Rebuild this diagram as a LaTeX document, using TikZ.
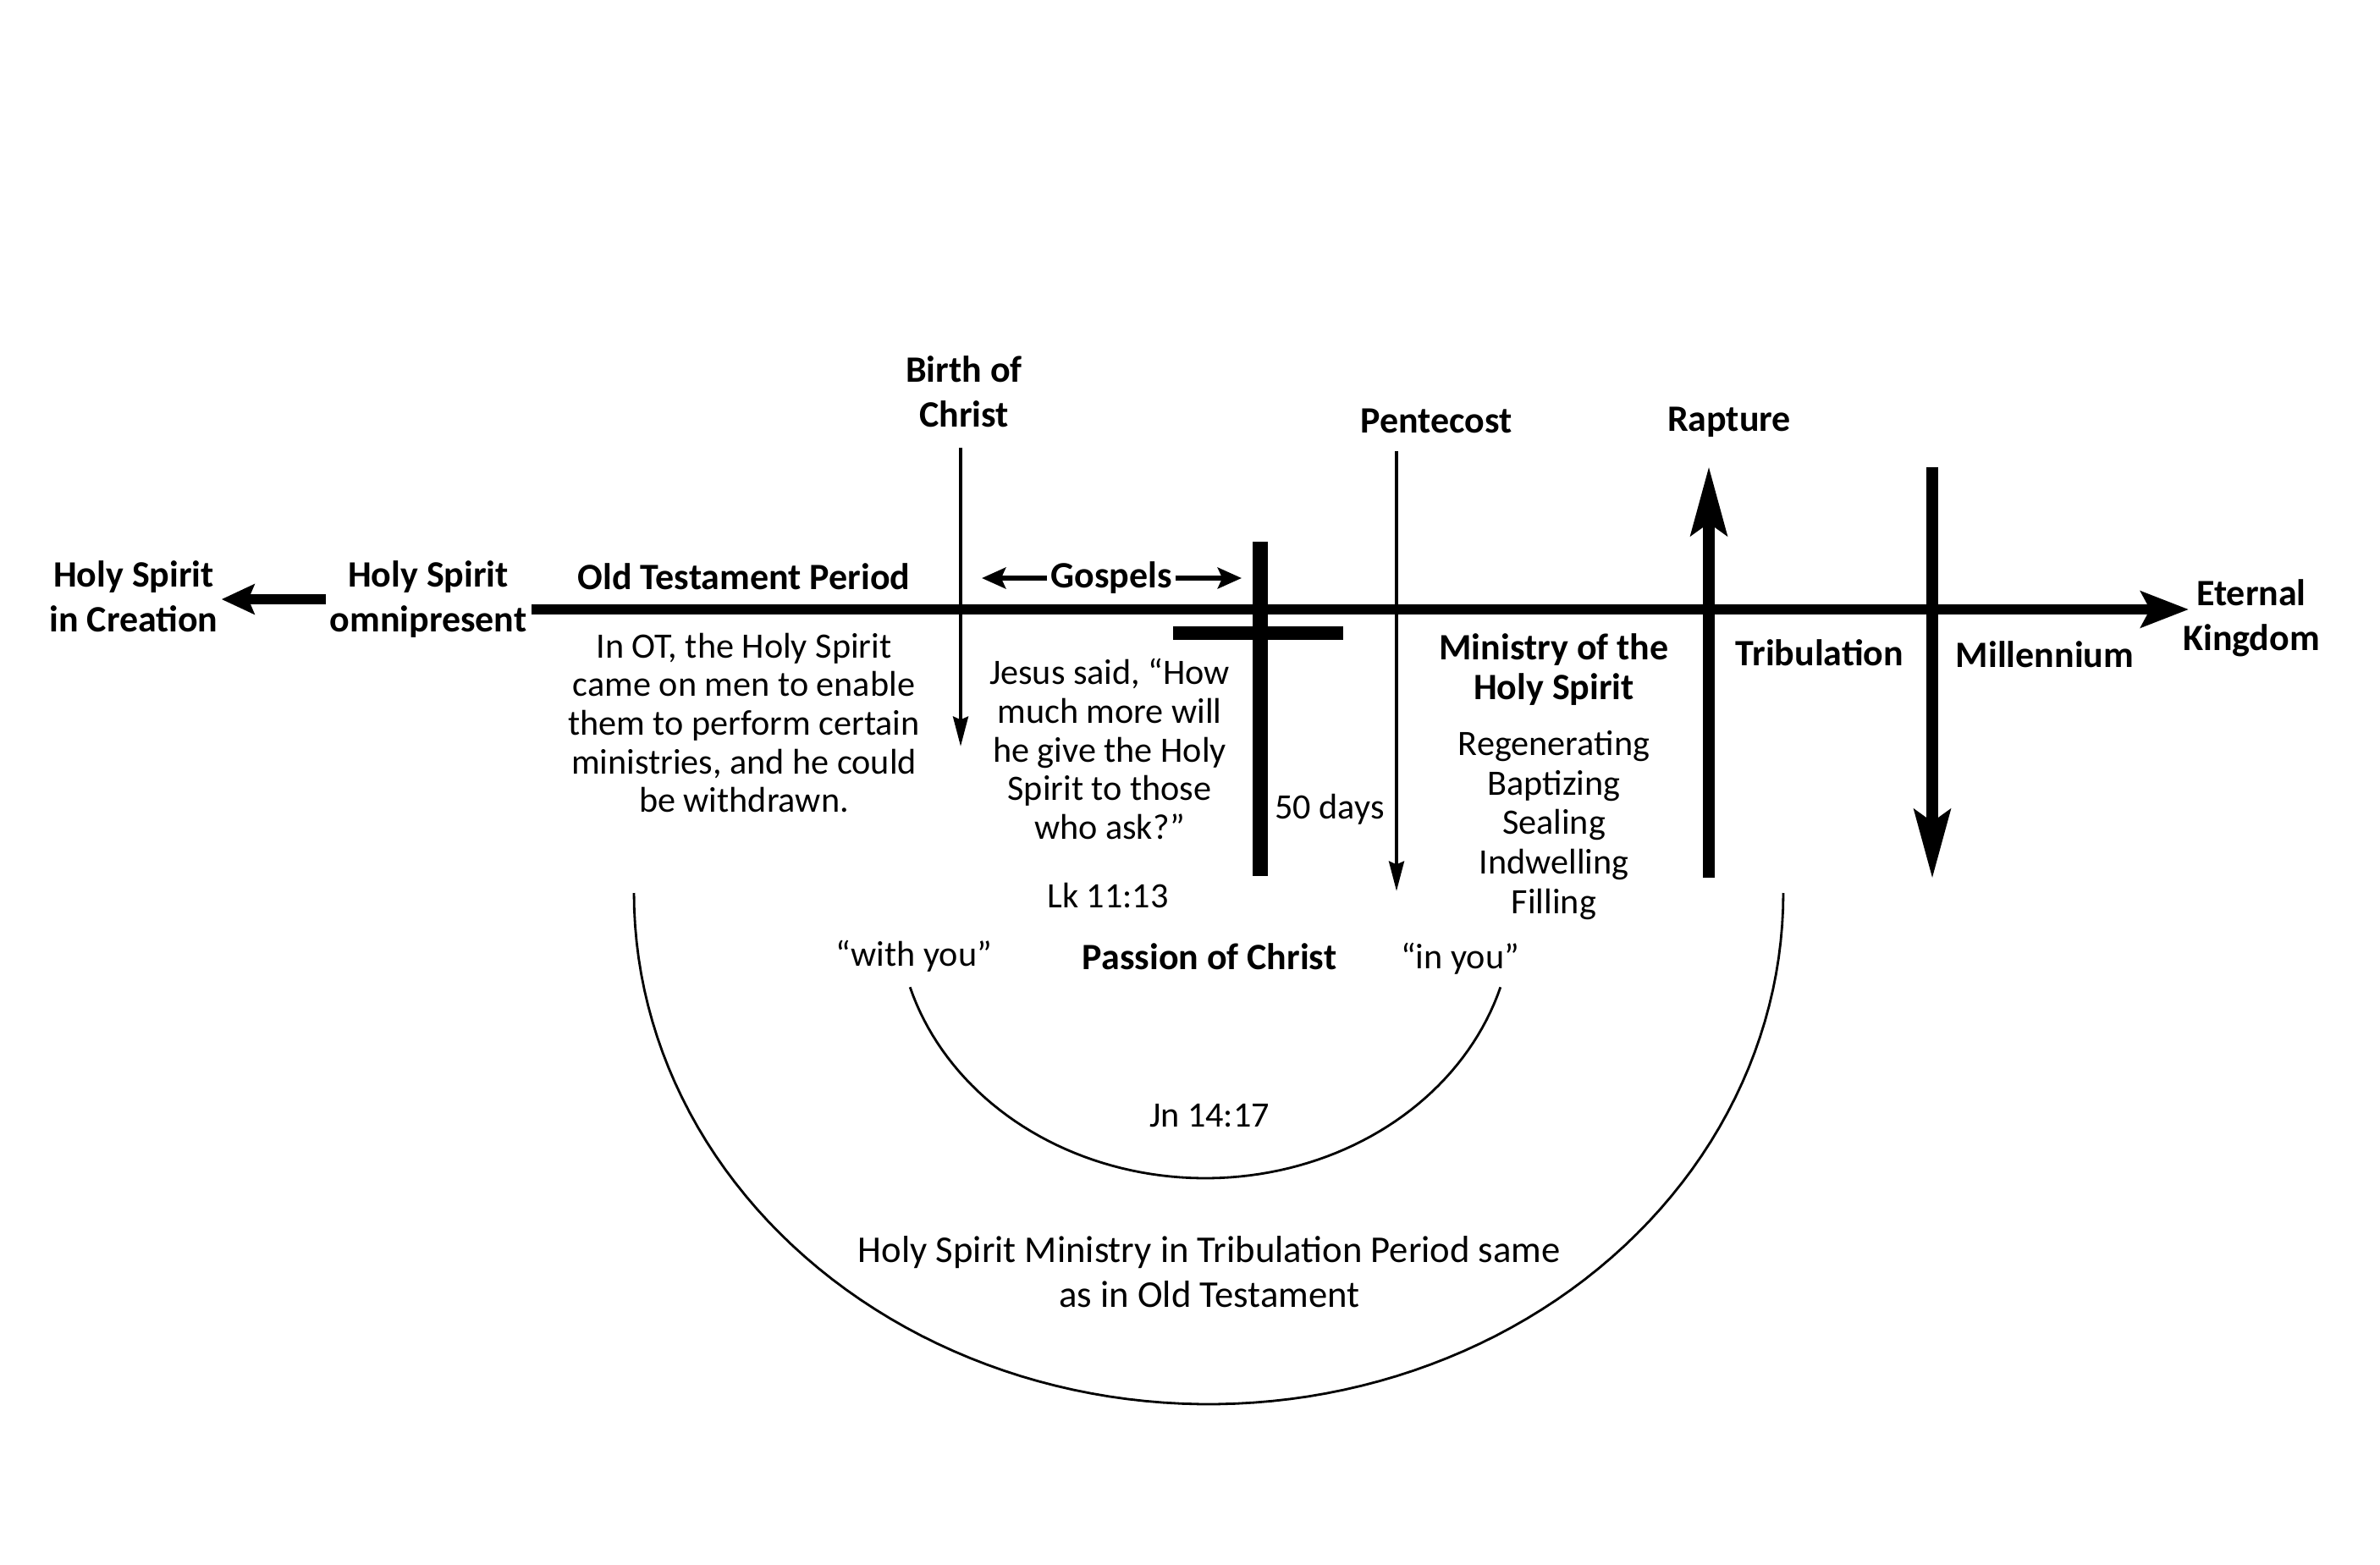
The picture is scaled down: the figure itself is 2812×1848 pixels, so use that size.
\documentclass[tikz,border=0pt]{standalone}
\usepackage{fontspec}
\setmainfont{Carlito}
\usetikzlibrary{arrows.meta}
\tikzset{
  axis/.style={line width=3.6pt, -{Stealth[length=16pt,width=12pt,inset=3pt]}},
  back/.style={line width=3.6pt, -{Stealth[length=11pt,width=10pt,inset=2pt]}},
  event/.style={line width=1.4pt, -{Stealth[length=10pt,width=5pt,inset=1pt]}},
  span/.style={line width=1.8pt, -{Stealth[length=8pt,width=7pt,inset=1.5pt]}},
  heavy/.style={line width=4pt, -{Stealth[length=23pt,width=12pt,inset=4pt]}},
  curve/.style={line width=0.8pt},
  lab/.style={font=\fontsize{12.5}{15}\selectfont\bfseries, align=center, inner sep=1pt},
  txt/.style={font=\fontsize{12}{13}\selectfont, align=center, inner sep=1pt}
}
\begin{document}
\begin{tikzpicture}[x=0.01cm,y=-0.01cm]
  \useasboundingbox (0,0) rectangle (2812,1848);

  % time line
  \coordinate (ts) at (628,720);
  \coordinate (te) at (2586,720);
  \draw[axis] (ts)--(te);

  \node[lab] (crea) at (158,705) {Holy Spirit\\in Creation};
  \node[lab] (omni) at (506,708) {Holy Spirit\\omnipresent};
  \draw[back] (omni.west)--(omni.west -| crea.east);

  \node[lab] (otp) at (879,681) {Old Testament Period};
  \node[txt] (ottxt) at (879,854) {In OT, the Holy Spirit\\came on men to enable\\them to perform certain\\ministries, and he could\\be withdrawn.};

  % birth of Christ
  \coordinate (bt) at (1135,529);
  \coordinate (bb) at (1135,882);
  \draw[event] (bt)--(bb);
  \node[lab] (birth) at (1139,463) {Birth of\\Christ};

  \node[lab] (gosp) at (1313,683) {Gospels};
  \coordinate (gl) at (1160,683);
  \coordinate (gr) at (1467,683);
  \draw[span] (gosp.west)--(gl);
  \draw[span] (gosp.east)--(gr);

  % cross
  \coordinate (ct) at (1489,640);
  \coordinate (cb) at (1489,1035);
  \draw[line width=5pt] (ct)--(cb);
  \fill (1386,740) rectangle (1587,756);

  \node[txt] (jesus) at (1311,885) {Jesus said, “How\\much more will\\he give the Holy\\Spirit to those\\who ask?”};
  \node[txt] (lk) at (1309,1058) {Lk 11:13};
  \node[txt] (days) at (1571,956) {50 days};

  % pentecost
  \coordinate (pt) at (1650,533);
  \coordinate (pb) at (1650,1053);
  \draw[event] (pt)--(pb);
  \node[lab] (pent) at (1697,497) {Pentecost};

  \node[lab, font=\fontsize{12.5}{13.5}\selectfont\bfseries] (mhs) at (1836,791) {Ministry of the\\Holy Spirit};
  \node[txt, font=\fontsize{12}{13.3}\selectfont] (list) at (1836,975) {Regenerating\\Baptizing\\Sealing\\Indwelling\\Filling};

  % rapture and millennium
  \coordinate (rb) at (2019,1037);
  \coordinate (rt) at (2019,551);
  \draw[heavy] (rb)--(rt);
  \node[lab] (rapt) at (2043,499) {Rapture};
  \node[lab] (trib) at (2150,771) {Tribulation};

  \coordinate (mt) at (2283,552);
  \coordinate (mb) at (2283,1038);
  \draw[heavy] (mt)--(mb);
  \node[lab] (mill) at (2416,773) {Millennium};
  \node[lab] (etk) at (2660,730) {Eternal\\Kingdom};

  % arcs below
  \draw[curve] plot[domain=16.6:163.4, samples=80] ({1424+364*cos(\x)}, {1076+316*sin(\x)});
  \draw[curve] plot[domain=0:180, samples=100] ({1428+679*cos(\x)}, {1055+604*sin(\x)});

  \node[txt] (withyou) at (1080,1130) {“with you”};
  \node[lab] (passion) at (1429,1130) {Passion of Christ};
  \node[txt] (inyou) at (1725,1133) {“in you”};
  \node[txt] (jn) at (1429,1318) {Jn 14:17};
  \node[txt, font=\fontsize{12.7}{15}\selectfont] (same) at (1429,1503) {Holy Spirit Ministry in Tribulation Period same\\as in Old Testament};
\end{tikzpicture}
\end{document}
